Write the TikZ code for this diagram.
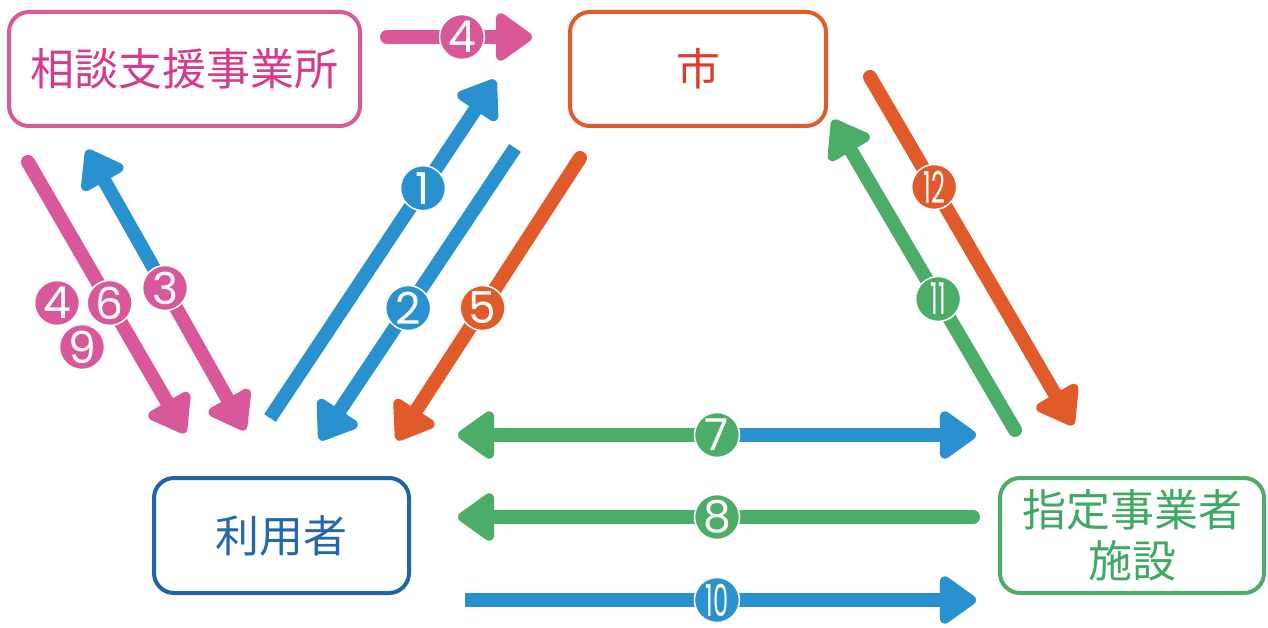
\documentclass[tikz,border=0pt]{standalone}
\usepackage{fontspec}
\newfontfamily\jp{Noto Sans CJK JP}
\newfontfamily\numfont{Poppins}
\usetikzlibrary{arrows.meta}
\definecolor{cpink}{HTML}{D9589A}
\definecolor{cpinktext}{HTML}{D63A8C}
\definecolor{corange}{HTML}{E05B29}
\definecolor{cred}{HTML}{E0392B}
\definecolor{cblue}{HTML}{2A91D0}
\definecolor{cnavy}{HTML}{1F63A8}
\definecolor{cnavytext}{HTML}{2467AE}
\definecolor{cgreen}{HTML}{4BAD68}
\definecolor{cgreentext}{HTML}{3FA862}
\begin{document}
\begin{tikzpicture}[x=1pt,y=-1pt,
  box/.style={draw, line width=4pt, rounded corners=20pt, inner sep=0pt,
    font=\jp\fontsize{44}{51}\selectfont, align=center},
  arw/.style={line width=14pt, -{Triangle[length=40pt,width=54pt,round]}},
  lbl/.style={circle, fill=#1, draw=white, line width=1.5pt, minimum size=45pt,
    inner sep=0pt, text=white, font=\numfont\fontsize{44}{44}\selectfont},
]
\useasboundingbox (0,0) rectangle (1268,628);

% boxes
\node[box, draw=cpink, text=cpinktext, minimum width=351pt, minimum height=114pt] (sodan) at (184.5,69) {相談支援事業所};
\node[box, draw=corange, text=cred, minimum width=256pt, minimum height=114pt] (shi) at (698,69) {市};
\node[box, draw=cnavy, text=cnavytext, minimum width=255pt, minimum height=115pt] (riyo) at (281.5,535.5) {利用者};
\node[box, draw=cgreen, text=cgreentext, minimum width=264pt, minimum height=115pt] (shitei) at (1132,535.5) {指定事業者\\施設};

% coordinates
\coordinate (a4s) at (387,37);   \coordinate (a4e) at (532,37);
\coordinate (a1s) at (270,418);  \coordinate (a1e) at (495,80);
\coordinate (a2s) at (515,148);  \coordinate (a2e) at (320,440);
\coordinate (a5s) at (580,158);  \coordinate (a5e) at (397,440);
\coordinate (a12s) at (870,77);  \coordinate (a12e) at (1073,425);
\coordinate (a11s) at (1015,430); \coordinate (a11e) at (833,120);
\coordinate (p6s) at (28,162);   \coordinate (p6e) at (185,433);
\coordinate (a3u) at (87,150);   \coordinate (a3d) at (245,430);
\coordinate (a7l) at (458,435);  \coordinate (a7r) at (976,435);
\coordinate (a8s) at (973,517);  \coordinate (a8e) at (458,517);
\coordinate (a10s) at (465,600); \coordinate (a10e) at (976,600);

% arrows
\draw[arw, cpink, line cap=round] (a4s) -- (a4e) node[lbl=cpink, pos=0.517] (n4top) {4};
\draw[arw, cblue] (a1s) -- (a1e) node[lbl=cblue, pos=0.68] (n1) {1};
\draw[arw, cblue] (a2s) -- (a2e) node[lbl=cblue, pos=0.548] (n2) {2};
\draw[arw, corange, line cap=round] (a5s) -- (a5e) node[lbl=corange, pos=0.532] (n5) {5};
\draw[arw, corange, line cap=round] (a12s) -- (a12e) node[lbl=corange, pos=0.316] (n12) {\scalebox{0.55}[1]{12}};
\draw[arw, cgreen, line cap=round] (a11s) -- (a11e) node[lbl=cgreen, pos=0.4226] (n11) {\scalebox{0.55}[1]{11}};
\draw[arw, cpink, line cap=round] (p6s) -- (p6e) node[lbl=cpink, pos=0.52] (n6) {6};
\node[lbl=cpink] (n4l) at (57,303) {4};
\node[lbl=cpink] (n9) at (82,347) {9};

\coordinate (l3) at (165,288);
\draw[arw, cblue] (l3) -- (a3u);
\draw[arw, cpink] (l3) -- (a3d);
\node[lbl=cpink] (n3) at (l3) {3};

\coordinate (l7) at (717,435);
\draw[arw, cgreen] (l7) -- (a7l);
\draw[arw, cblue] (l7) -- (a7r);
\node[lbl=cgreen] (n7) at (l7) {7};

\draw[arw, cgreen, line cap=round] (a8s) -- (a8e) node[lbl=cgreen, pos=0.497] (n8) {8};
\draw[arw, cblue] (a10s) -- (a10e) node[lbl=cblue, pos=0.493] (n10) {\scalebox{0.55}[1]{10}};
\end{tikzpicture}
\end{document}
